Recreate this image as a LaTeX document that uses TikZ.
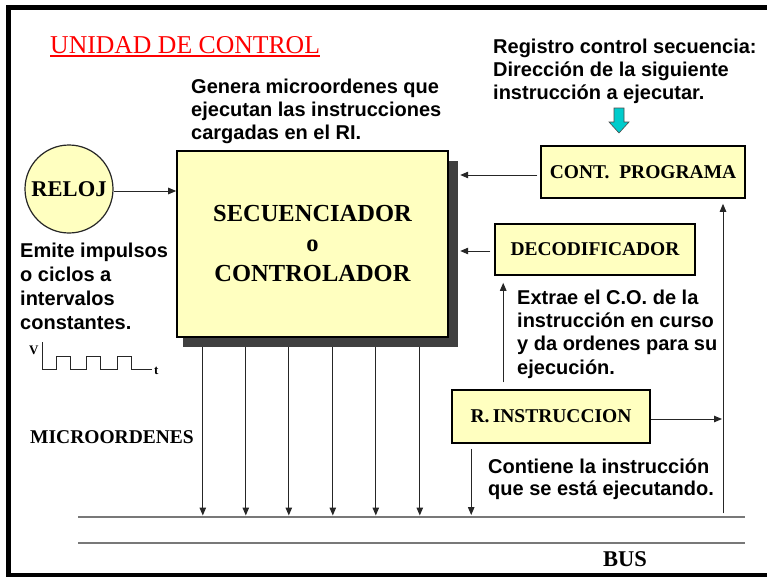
\documentclass[tikz,border=0pt]{standalone}
\usepackage{fontspec}
\setmainfont{Liberation Serif}
\setsansfont{Liberation Sans}
\usetikzlibrary{arrows.meta,calc}
\definecolor{boxfill}{RGB}{255,255,192}
\definecolor{shadowgray}{RGB}{64,64,64}
\definecolor{cyanarrow}{RGB}{0,204,204}
\definecolor{linegray}{RGB}{120,120,120}
\begin{document}
\begin{tikzpicture}[x=1pt,y=-1pt,
  arr/.style={-{Triangle[length=8pt,width=6.5pt]}, line width=1pt, draw=black!85, fill=black},
  ybox/.style={draw=black, line width=1.6pt, fill=boxfill, inner sep=0pt, font=\bfseries\fontsize{19.5}{22}\selectfont},
  note/.style={font=\sffamily\bfseries\fontsize{20}{23.3}\selectfont, align=left, inner sep=0pt, anchor=base west},
  busline/.style={draw=linegray, line width=1.5pt},
  serifl/.style={inner sep=0pt, anchor=base west},
]
\useasboundingbox (0,0) rectangle (767,576);
\clip (0,0) rectangle (767,576);
\fill[white] (0,0) rectangle (767,576);
\draw[line width=5pt] (767,7.5) -- (8.5,7.5) -- (8.5,575.5) -- (767,575.5);

% title
\node[serifl, text=red, font=\fontsize{25.7}{28}\selectfont] (title) at (50,53) {UNIDAD DE CONTROL};
\draw[red, line width=1.8pt] ([yshift=-3pt]title.base west) -- ([yshift=-3pt]title.base east);

% notes (anchor = baseline of the last line)
\node[note] (reg) at (493,99.6) {Registro control secuencia:\\Dirección de la siguiente\\instrucción a ejecutar.};
\node[note] (gen) at (191,139.6) {Genera microordenes que\\ejecutan las instrucciones\\cargadas en el RI.};
\node[note, font=\sffamily\bfseries\fontsize{20}{23.7}\selectfont] (emite) at (20,329) {Emite impulsos\\o ciclos a\\intervalos\\constantes.};
\node[note] (extrae) at (517,374) {Extrae el C.O. de la\\instrucción en curso\\y da ordenes para su\\ejecución.};
\node[note, font=\sffamily\bfseries\fontsize{20}{22.5}\selectfont] (contiene) at (488,495.5) {Contiene la instrucción\\que se está ejecutando.};

% cyan arrow
\draw[fill=cyanarrow, draw=black!70, line width=0.6pt] (614,108) -- (624,108) -- (624,122) -- (629,122) -- (619,133) -- (609,122) -- (614,122) -- cycle;

% big box
\node[fill=shadowgray, minimum width=275pt, minimum height=186pt, inner sep=0pt] (shadow) at (320.5,254) {};
\node[ybox, minimum width=271pt, minimum height=186pt, align=center, font=\bfseries\fontsize{24.5}{30}\selectfont] (seq) at (312.5,244) {SECUENCIADOR\\o\\CONTROLADOR};

% clock
\node[circle, draw=black!85, line width=1.2pt, fill=boxfill, minimum size=88pt, inner sep=0pt, font=\bfseries\fontsize{22.5}{24}\selectfont] (reloj) at (69,189) {RELOJ};
\draw[arr] ($(reloj.east)+(0,2)$) coordinate (rr) -- (rr -| seq.west);

% small boxes
\node[ybox, minimum width=204pt, minimum height=52pt] (cont) at (643,172) {CONT.\ \ PROGRAMA};
\node[ybox, minimum width=200pt, minimum height=51pt] (decod) at (595,249.5) {DECODIFICADOR};
\node[ybox, minimum width=198pt, minimum height=53pt] (rinst) at (551,416.5) {R.\,INSTRUCCION};

\draw[arr, shorten <=3pt, shorten >=2pt] ($(cont.west)+(0,3)$) coordinate (c) -- (c -| shadow.east);
\draw[arr, shorten <=4pt, shorten >=2pt] ($(decod.west)+(0,1.5)$) coordinate (e) -- (e -| shadow.east);

% bus
\coordinate (busA1) at (78,517);
\coordinate (busA2) at (745,517);
\coordinate (busB1) at (78,543);
\coordinate (busB2) at (745,543);
\draw[busline] (busA1) -- (busA2);
\draw[busline] (busB1) -- (busB2);

% microorders
\foreach \dx in {20,63,106,150,193,237}
  \draw[arr, shorten >=1.5pt] ($(shadow.south west)+(\dx,0)$) coordinate (m) -- (m |- busA1);

% right vertical line
\coordinate (vbot) at (723,513);
\draw[arr, shorten >=5pt] (vbot) -- (vbot |- cont.south);
\draw[arr, shorten >=1pt] ($(rinst.east)+(0,2.5)$) coordinate (ri) -- (ri -| vbot);
\coordinate (d) at ($(decod.south west)+(9,0)$);
\draw[arr, shorten <=7pt, shorten >=7pt] (d |- rinst.north) -- (d);
\draw[arr, shorten <=5pt, shorten >=2pt] ($(rinst.south west)+(20,0)$) coordinate (r) -- (r |- busA1);

% labels
\node[serifl, font=\bfseries\fontsize{19.5}{22}\selectfont] (micro) at (30,443) {MICROORDENES};
\node[serifl, font=\bfseries\fontsize{22.5}{24}\selectfont] (bus) at (603,566) {BUS};

% waveform
\node[serifl, font=\bfseries\fontsize{13}{15}\selectfont] (vlab) at (29,354) {V};
\node[serifl, font=\bfseries\fontsize{13}{15}\selectfont] (tlab) at (154,374) {t};
\draw[line width=1pt, black!85] (42,342) -- (42,369) -- (56,369) -- (56,356) -- (70,356) -- (70,369) -- (86,369) -- (86,356) -- (100,356) -- (100,369) -- (117,369) -- (117,356) -- (131,356) -- (131,369) -- (152,369);
\end{tikzpicture}
\end{document}
